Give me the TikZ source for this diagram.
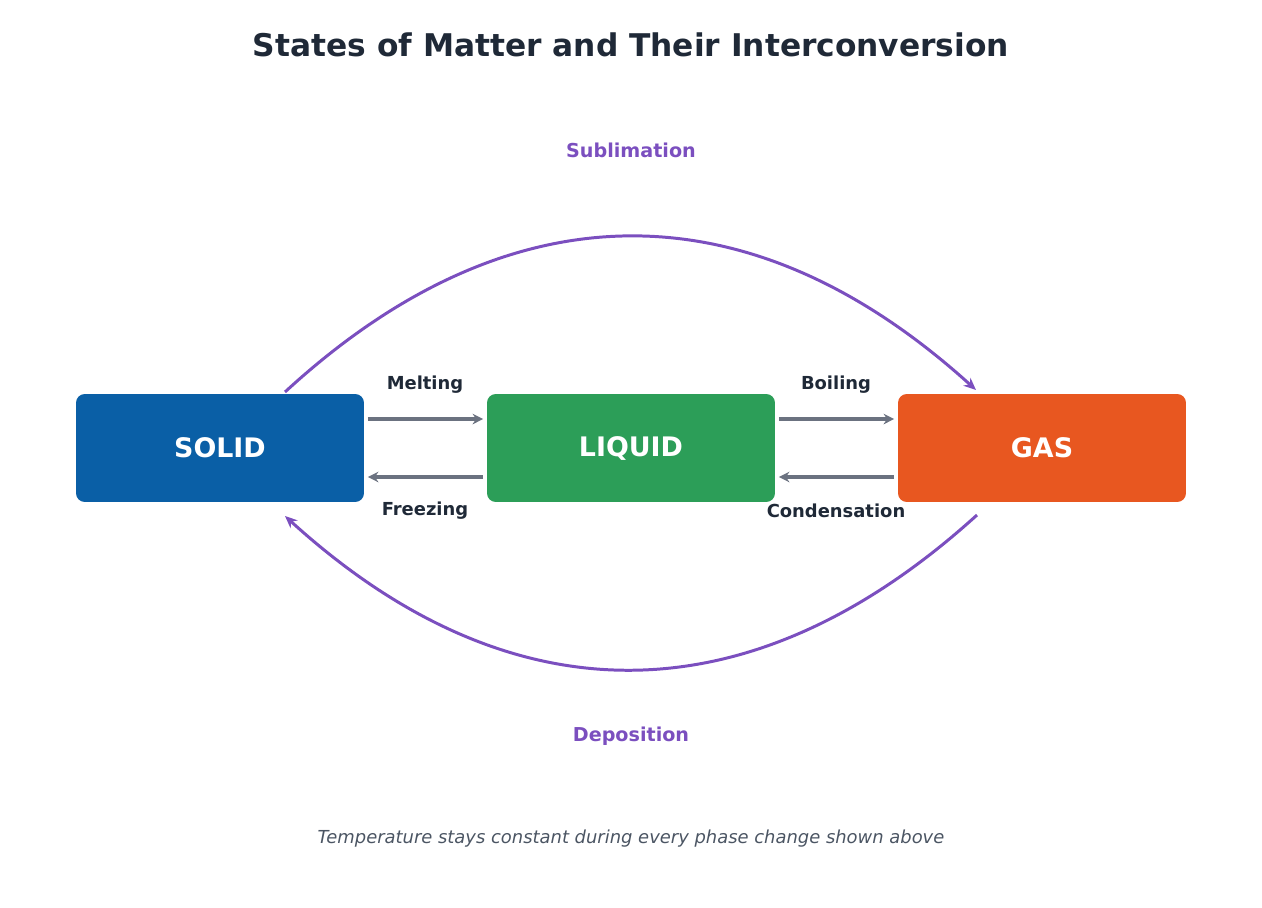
\documentclass[tikz,border=0pt]{standalone}
\usepackage{fontspec}
\setmainfont{DejaVu Sans}
\usetikzlibrary{positioning,arrows.meta}
\definecolor{solidblue}{HTML}{0A5FA6}
\definecolor{liquidgreen}{HTML}{2C9E58}
\definecolor{gasorange}{HTML}{E85720}
\definecolor{arrowgray}{HTML}{6B7280}
\definecolor{phasepurple}{HTML}{7B4FBF}
\definecolor{titledark}{HTML}{1F2937}
\definecolor{notegray}{HTML}{4B5563}
\begin{document}
\begin{tikzpicture}[x=0.02cm,y=-0.02cm]
\tikzstyle{state}=[rectangle, rounded corners=5pt, minimum width=5.76cm, minimum height=2.16cm, text=white, font=\fontsize{15.3}{18}\selectfont\bfseries]
\tikzstyle{flow}=[-{Stealth[length=6pt,width=6pt]}, line width=2pt, draw=arrowgray]
\tikzstyle{phase}=[-{Stealth[length=7pt,width=6pt]}, line width=1.7pt, draw=phasepurple]
\tikzstyle{label}=[font=\fontsize{10.2}{12}\selectfont\bfseries, text=titledark]
\tikzstyle{curvelabel}=[font=\fontsize{10.9}{13}\selectfont\bfseries, text=phasepurple]
  \useasboundingbox (0,0) rectangle (1262,907);

  \node[font=\fontsize{17.8}{21}\selectfont\bfseries, text=titledark] (title) at (631,45) {States of Matter and Their Interconversion};

  \node[state, fill=solidblue] (solid) at (220,448) {SOLID};
  \node[state, fill=liquidgreen] (liquid) at (631,448) {LIQUID};
  \node[state, fill=gasorange] (gas) at (1042,448) {GAS};

  \draw[flow] ([yshift=0.58cm,xshift=2pt]solid.east) -- ([yshift=0.58cm,xshift=-2pt]liquid.west);
  \draw[flow] ([yshift=-0.58cm,xshift=-2pt]liquid.west) -- ([yshift=-0.58cm,xshift=2pt]solid.east);
  \draw[flow] ([yshift=0.58cm,xshift=2pt]liquid.east) -- ([yshift=0.58cm,xshift=-2pt]gas.west);
  \draw[flow] ([yshift=-0.58cm,xshift=-2pt]gas.west) -- ([yshift=-0.58cm,xshift=2pt]liquid.east);

  \node[label] (melting) at (425,385) {Melting};
  \node[label] (freezing) at (425,511) {Freezing};
  \node[label] (boiling) at (836,385) {Boiling};
  \node[label] (condensation) at (836,511) {Condensation};

  \coordinate (subA) at (285,392);
  \coordinate (subB) at (976,390);
  \coordinate (depA) at (977,515);
  \coordinate (depB) at (285,516);
  \draw[phase] (subA) .. controls (510,185) and (750,185) .. (subB);
  \draw[phase] (depA) .. controls (750,721) and (510,721) .. (depB);
  \node[curvelabel] (sublimation) at (631,150) {Sublimation};
  \node[curvelabel] (deposition) at (631,736) {Deposition};

  \node[font=\fontsize{10.2}{12}\selectfont\itshape, text=notegray] (note) at (631,839) {Temperature stays constant during every phase change shown above};
\end{tikzpicture}
\end{document}
